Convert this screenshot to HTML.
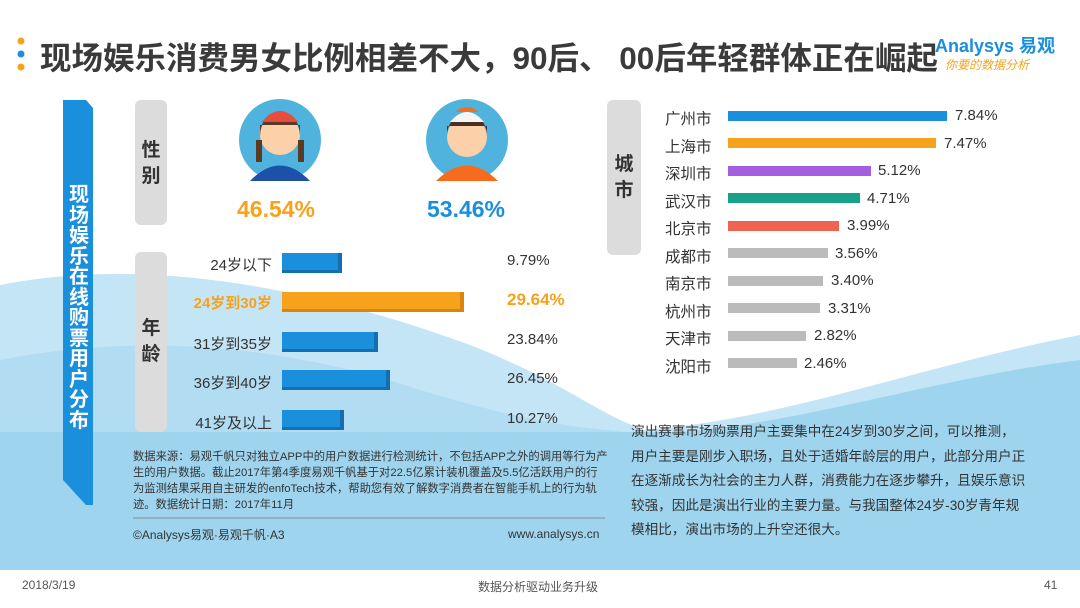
<!DOCTYPE html>
<html><head><meta charset="utf-8"><style>
*{margin:0;padding:0;box-sizing:border-box}
body{width:1080px;height:608px;position:relative;background:#fff;font-family:"Liberation Sans","Noto Sans CJK SC",sans-serif;overflow:hidden;color:#333}
.a{position:absolute}
.gbox{position:absolute;background:#dcdcdc;border-radius:6px;font-weight:bold;font-size:19px;color:#333;text-align:center;line-height:26px}
.lab{position:absolute;width:120px;text-align:right;font-size:15px;color:#333}
.bar{position:absolute;height:20px;background:#1a8fdc;border-right:4px solid #136fb0;border-bottom:3px solid #136fb0}
.val{position:absolute;font-size:15px;color:#333}
.cl{position:absolute;left:665px;font-size:15.5px;color:#333}
.cb{position:absolute;left:728px;height:10px}
.cv{position:absolute;font-size:15px;color:#333}
</style></head><body>
<svg class="a" style="left:0;top:0" width="1080" height="608">
<path d="M0,285 C150,255 320,290 470,345 C560,380 600,415 640,428 L640,570 L0,570 Z" fill="#c4e5f6"/>
<path d="M0,360 C150,330 300,350 420,390 C520,420 580,430 640,432 L640,570 L0,570Z" fill="#b1dcf2"/>
<path d="M600,432 C760,430 900,370 1080,335 L1080,570 L600,570Z" fill="#c4e5f6"/>
<path d="M640,434 C780,432 920,380 1080,360 L1080,570 L640,570Z" fill="#9fd4ef"/>
<rect x="0" y="432" width="1080" height="138" fill="#9fd4ef"/>
<circle cx="21" cy="41" r="3.5" fill="#f7a21b"/><circle cx="21" cy="54" r="3.5" fill="#1a8fdc"/><circle cx="21" cy="67" r="3.5" fill="#f7a21b"/>
<path d="M63,100 L86,100 L93,108 L93,505 L86,505 L63,480 Z" fill="#1a8fdc"/>
<circle cx="280" cy="140" r="41" fill="#4fb3dd"/>
<circle cx="280" cy="135" r="20" fill="#fcd0a8"/>
<path d="M260,135 Q262,112 280,112 Q298,112 300,135 L300,125 L260,125Z" fill="#5a3a25"/>
<path d="M262,122 Q280,100 298,122Z" fill="#e84c3d"/>
<rect x="256" y="140" width="6" height="22" fill="#5a3a25"/><rect x="298" y="140" width="6" height="22" fill="#5a3a25"/>
<path d="M250,181 Q280,150 310,181 Z" fill="#1d50a8"/>
<circle cx="467" cy="140" r="41" fill="#4fb3dd"/>
<circle cx="467" cy="137" r="20" fill="#fcd0a8"/>
<path d="M447,134 Q449,115 467,115 Q485,115 487,134 L487,126 L447,126Z" fill="#4a3020"/>
<path d="M450,122 Q467,102 484,122Z" fill="#f5f5f5"/><path d="M455,112 Q467,102 479,112Z" fill="#f07020"/>
<path d="M436,181 Q467,150 498,181 Z" fill="#f76b1c"/>
<line x1="133" y1="518" x2="605" y2="518" stroke="#888" stroke-width="1"/>
</svg>
<div class="a" style="left:40px;top:33px;font-size:31.5px;font-weight:bold;color:#3a3a3a">现场娱乐消费男女比例相差不大，90后、 00后年轻群体正在崛起</div>
<div class="a" style="left:935px;top:32px;font-size:18px;color:#1a8fdc;font-weight:bold">Analysys 易观</div>
<div class="a" style="left:945px;top:56px;font-size:12px;color:#f7a21b;font-style:italic">你要的数据分析</div>
<div class="a" style="left:66px;top:185px;width:26px;font-size:20px;font-weight:bold;color:#fff;line-height:20.5px;text-align:center">现场娱乐在线购票用户分布</div>
<div class="gbox" style="left:135px;top:100px;width:32px;height:125px;padding-top:38px">性<br>别</div>
<div class="gbox" style="left:135px;top:252px;width:32px;height:180px;padding-top:64px">年<br>龄</div>
<div class="a" style="left:237px;top:196px;font-size:23px;font-weight:bold;color:#f7a21b">46.54%</div>
<div class="a" style="left:427px;top:196px;font-size:23px;font-weight:bold;color:#1a8fdc">53.46%</div>
<div class="lab" style="left:152px;top:254px">24岁以下</div>
<div class="lab" style="left:152px;top:292px;color:#f7a21b;font-weight:bold">24岁到30岁</div>
<div class="lab" style="left:152px;top:333px">31岁到35岁</div>
<div class="lab" style="left:152px;top:372px">36岁到40岁</div>
<div class="lab" style="left:152px;top:412px">41岁及以上</div>
<div class="bar" style="left:282px;top:253px;width:60px"></div>
<div class="bar" style="left:282px;top:292px;width:182px;background:#f7a21b;border-color:#d98510"></div>
<div class="bar" style="left:282px;top:332px;width:96px"></div>
<div class="bar" style="left:282px;top:370px;width:108px"></div>
<div class="bar" style="left:282px;top:410px;width:62px"></div>
<div class="val" style="left:507px;top:252px">9.79%</div>
<div class="val" style="left:507px;top:290px;color:#f7a21b;font-weight:bold;font-size:17px">29.64%</div>
<div class="val" style="left:507px;top:331px">23.84%</div>
<div class="val" style="left:507px;top:370px">26.45%</div>
<div class="val" style="left:507px;top:410px">10.27%</div>
<div class="a" style="left:133px;top:449px;width:475px;font-size:11.3px;line-height:16px;color:#333">数据来源：易观千帆只对独立APP中的用户数据进行检测统计，不包括APP之外的调用等行为产生的用户数据。截止2017年第4季度易观千帆基于对22.5亿累计装机覆盖及5.5亿活跃用户的行为监测结果采用自主研发的enfoTech技术，帮助您有效了解数字消费者在智能手机上的行为轨迹。数据统计日期：2017年11月</div>
<div class="a" style="left:133px;top:526px;font-size:12px">©Analysys易观·易观千帆·A3</div>
<div class="a" style="left:508px;top:527px;font-size:12px">www.analysys.cn</div>
<div class="gbox" style="left:607px;top:100px;width:34px;height:155px;padding-top:52px">城<br>市</div>
<div class="cl" style="top:107px">广州市</div><div class="cb" style="top:111px;width:219px;background:#1a8fdc"></div><div class="cv" style="left:955px;top:107px">7.84%</div>
<div class="cl" style="top:135px">上海市</div><div class="cb" style="top:138px;width:208px;background:#f7a21b"></div><div class="cv" style="left:944px;top:135px">7.47%</div>
<div class="cl" style="top:162px">深圳市</div><div class="cb" style="top:166px;width:143px;background:#a45ee0"></div><div class="cv" style="left:878px;top:162px">5.12%</div>
<div class="cl" style="top:190px">武汉市</div><div class="cb" style="top:193px;width:132px;background:#17a08a"></div><div class="cv" style="left:867px;top:190px">4.71%</div>
<div class="cl" style="top:217px">北京市</div><div class="cb" style="top:221px;width:111px;background:#ef6451"></div><div class="cv" style="left:847px;top:217px">3.99%</div>
<div class="cl" style="top:245px">成都市</div><div class="cb" style="top:248px;width:100px;background:#bbb"></div><div class="cv" style="left:835px;top:245px">3.56%</div>
<div class="cl" style="top:272px">南京市</div><div class="cb" style="top:276px;width:95px;background:#bbb"></div><div class="cv" style="left:831px;top:272px">3.40%</div>
<div class="cl" style="top:300px">杭州市</div><div class="cb" style="top:303px;width:92px;background:#bbb"></div><div class="cv" style="left:828px;top:300px">3.31%</div>
<div class="cl" style="top:327px">天津市</div><div class="cb" style="top:331px;width:78px;background:#bbb"></div><div class="cv" style="left:814px;top:327px">2.82%</div>
<div class="cl" style="top:355px">沈阳市</div><div class="cb" style="top:358px;width:69px;background:#bbb"></div><div class="cv" style="left:804px;top:355px">2.46%</div>
<div class="a" style="left:631px;top:420px;width:400px;font-size:13.6px;line-height:24.5px;color:#333">演出赛事市场购票用户主要集中在24岁到30岁之间，可以推测，<br>用户主要是刚步入职场，且处于适婚年龄层的用户，此部分用户正<br>在逐渐成长为社会的主力人群，消费能力在逐步攀升，且娱乐意识<br>较强，因此是演出行业的主要力量。与我国整体24岁-30岁青年规<br>模相比，演出市场的上升空还很大。</div>
<div class="a" style="left:22px;top:578px;font-size:12px;color:#555">2018/3/19</div>
<div class="a" style="left:478px;top:578px;font-size:12px;color:#555">数据分析驱动业务升级</div>
<div class="a" style="left:1044px;top:578px;font-size:12px;color:#555">41</div>
</body></html>
